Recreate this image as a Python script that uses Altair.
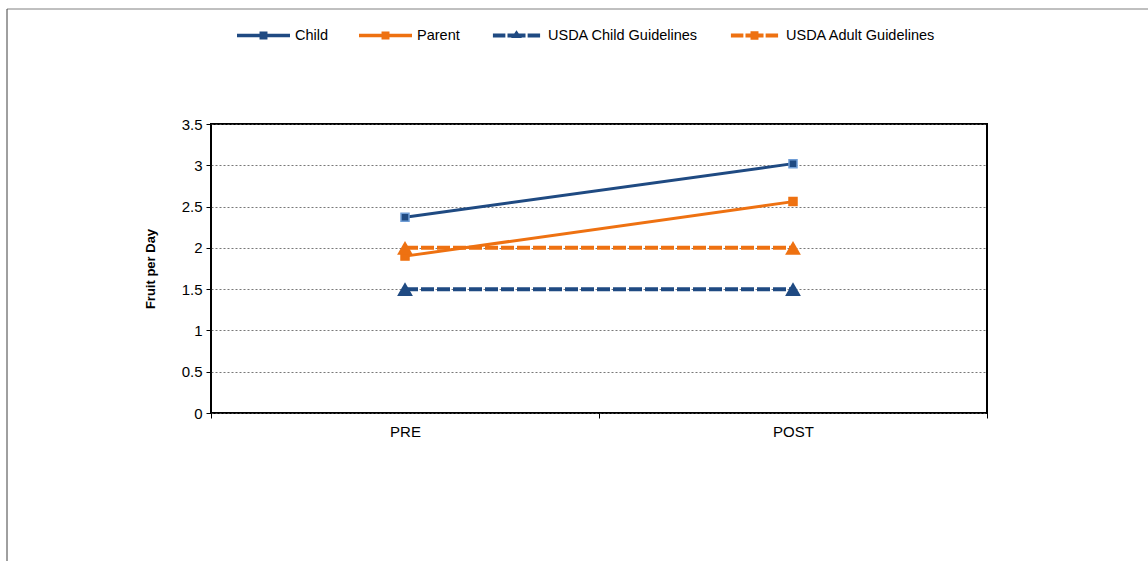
import altair as alt
import pandas as pd

# ---- data ----
stages = ["PRE", "POST"]
series_names = ["Child", "Parent", "USDA Child Guidelines", "USDA Adult Guidelines"]
child = [2.37, 3.02]
parent = [1.90, 2.56]
usda_child = [1.5, 1.5]
usda_adult = [2.0, 2.0]
y_ticks = [0, 0.5, 1, 1.5, 2, 2.5, 3, 3.5]

BLUE = "#1F4A82"
ORANGE = "#EE7111"
series_colors = [BLUE, ORANGE, BLUE, ORANGE]

rows = []
for name, vals in zip(series_names, [child, parent, usda_child, usda_adult]):
    for s, v in zip(stages, vals):
        rows.append({"stage": s, "series": name, "value": v})
df = pd.DataFrame(rows)

FONT = "Liberation Sans"

# legend symbols: line + marker drawn as custom paths
solid_sq = "M-1,-0.065H1V0.065H-1Z M-0.15,-0.15H0.15V0.15H-0.15Z"
dash_tri = ("M-0.89,-0.075H-0.42V0.075H-0.89Z M-0.34,-0.075H0.34V0.075H-0.34Z "
            "M0.42,-0.075H0.89V0.075H0.42Z M-0.2,0.09L0,-0.2L0.2,0.09Z")
dash_sq = ("M-0.89,-0.075H-0.42V0.075H-0.89Z M-0.34,-0.075H0.34V0.075H-0.34Z "
           "M0.42,-0.075H0.89V0.075H0.42Z M-0.15,-0.16H0.15V0.16H-0.15Z")
legend_paths = [solid_sq, solid_sq, dash_tri, dash_sq]

x_enc = alt.X(
    "stage:N",
    sort=stages,
    scale=alt.Scale(domain=stages, paddingInner=0, paddingOuter=0),
    axis=alt.Axis(title=None, tickBand="extent", labelAngle=0, domain=False, grid=False,
                  ticks=True, tickSize=5, tickColor="#000", tickWidth=1, labelPadding=6,
                  labelFont=FONT, labelFontSize=15, labelColor="#000"),
)
y_enc = alt.Y(
    "value:Q",
    scale=alt.Scale(domain=[0, 3.5], nice=False, zero=True),
    axis=alt.Axis(title="Fruit per Day", values=y_ticks, format="~g", domain=False,
                  grid=True, gridDash=[2, 2], gridColor="#555", gridWidth=0.8,
                  tickSize=5, tickColor="#000", tickWidth=1, labelPadding=4,
                  labelFont=FONT, labelFontSize=15, labelColor="#000",
                  titleFont=FONT, titleFontSize=13, titleFontWeight="bold",
                  titleColor="#000", titlePadding=24),
)
color_scale = alt.Scale(domain=series_names, range=series_colors)
color_nolegend = alt.Color("series:N", scale=color_scale, legend=None)

base = alt.Chart(df)

leg = alt.Legend(
    title=None, orient="none", legendX=26, legendY=-115, direction="horizontal", columns=4,
    symbolSize=2809, symbolStrokeWidth=0, symbolOpacity=1,
    labelFont=FONT, labelFontSize=14.5, labelColor="#000", labelOffset=5,
    columnPadding=30, padding=0,
)
# invisible layer that carries the legend (first, so its legend settings win)
legend_layer = base.mark_point(filled=True, opacity=0, size=10).encode(
    x=x_enc, y=y_enc,
    color=alt.Color("series:N", scale=color_scale, legend=leg),
    shape=alt.Shape("series:N", scale=alt.Scale(domain=series_names, range=legend_paths), legend=leg),
)

solid_lines = base.transform_filter(
    alt.FieldOneOfPredicate(field="series", oneOf=["Child", "Parent"])
).mark_line(strokeWidth=3).encode(x=x_enc, y=y_enc, color=color_nolegend)

dashed_lines = base.transform_filter(
    alt.FieldOneOfPredicate(field="series", oneOf=["USDA Child Guidelines", "USDA Adult Guidelines"])
).mark_line(strokeWidth=4, strokeDash=[13, 3]).encode(x=x_enc, y=y_enc, color=color_nolegend)

squares = base.transform_filter(
    alt.FieldOneOfPredicate(field="series", oneOf=["Child", "Parent"])
).mark_point(shape="square", filled=True, size=64, opacity=1, strokeWidth=1.5).encode(
    x=x_enc, y=y_enc, color=color_nolegend,
    stroke=alt.Stroke("series:N", scale=alt.Scale(domain=["Child", "Parent"], range=["#6F9DD6", ORANGE]), legend=None),
)

triangles = base.transform_filter(
    alt.FieldOneOfPredicate(field="series", oneOf=["USDA Child Guidelines", "USDA Adult Guidelines"])
).mark_point(shape="triangle-up", filled=True, size=250, opacity=1).encode(
    x=x_enc, y=y_enc, color=color_nolegend,
)

one = alt.Data(values=[{}])
frame_top = alt.Chart(one).mark_rule(color="#808080", strokeWidth=1).encode(
    x=alt.value(-204), x2=alt.value(940), y=alt.value(-115))
frame_left = alt.Chart(one).mark_rule(color="#404040", strokeWidth=1).encode(
    x=alt.value(-204), y=alt.value(-115), y2=alt.value(440))

chart = alt.layer(
    legend_layer, solid_lines, dashed_lines, squares, triangles, frame_top, frame_left
).properties(
    width=776, height=289,
    autosize=alt.AutoSizeParams(type="none"),
    padding={"left": 211, "top": 124, "right": 161, "bottom": 148},
    background="white",
).configure_view(stroke="#000", strokeWidth=2)

chart.save("out.html", embed_options={"renderer": "svg", "actions": False})
